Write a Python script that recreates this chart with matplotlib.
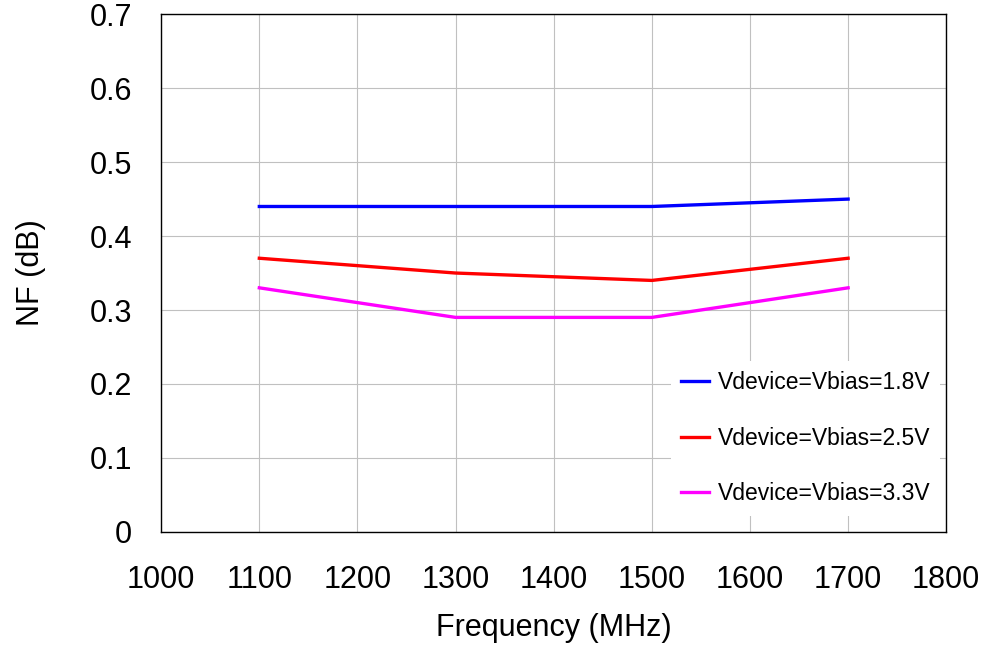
import matplotlib
matplotlib.use('Agg')
import matplotlib.pyplot as plt

# ─── data ─────────────────────────────────────────────────────────────────────
freq = [1100, 1300, 1500, 1700]
nf_18 = [0.44, 0.44, 0.44, 0.45]
nf_25 = [0.37, 0.35, 0.34, 0.37]
nf_33 = [0.33, 0.29, 0.29, 0.33]
labels = ['Vdevice=Vbias=1.8V', 'Vdevice=Vbias=2.5V', 'Vdevice=Vbias=3.3V']
colors = ['#0000ff', '#ff0000', '#ff00ff']

plt.rcParams['font.family'] = ['Liberation Sans', 'DejaVu Sans']

fig = plt.figure(figsize=(9.95, 6.47), dpi=100)
ax = fig.add_axes([0.162, 0.178, 0.789, 0.800])

for ys, c, lab in zip([nf_18, nf_25, nf_33], colors, labels):
    ax.plot(freq, ys, color=c, linewidth=2.4, label=lab, zorder=3)

ax.set_xlim(1000, 1800)
ax.set_ylim(0, 0.7)
ax.set_xticks(range(1000, 1801, 100))
ax.set_yticks([0, 0.1, 0.2, 0.3, 0.4, 0.5, 0.6, 0.7])
ax.set_yticklabels(['0', '0.1', '0.2', '0.3', '0.4', '0.5', '0.6', '0.7'])
ax.grid(True, color='#c0c0c0', linewidth=0.8)
ax.set_axisbelow(True)
ax.tick_params(length=0, labelsize=22)
ax.tick_params(axis='y', pad=21)
ax.tick_params(axis='x', pad=24)
for sp in ax.spines.values():
    sp.set_color('black')
    sp.set_linewidth(1.0)

ax.set_xlabel('Frequency (MHz)', fontsize=22, labelpad=13)
ax.set_ylabel('NF (dB)', fontsize=22, labelpad=31)

leg = ax.legend(loc='lower right', bbox_to_anchor=(0.9925, 0.031), fontsize=16.5,
                frameon=True, fancybox=False, edgecolor='none', facecolor='white',
                framealpha=1.0, handlelength=1.22, handletextpad=0.35,
                labelspacing=1.43, borderpad=0.45, borderaxespad=0)

fig.savefig('out.png', dpi=100)
